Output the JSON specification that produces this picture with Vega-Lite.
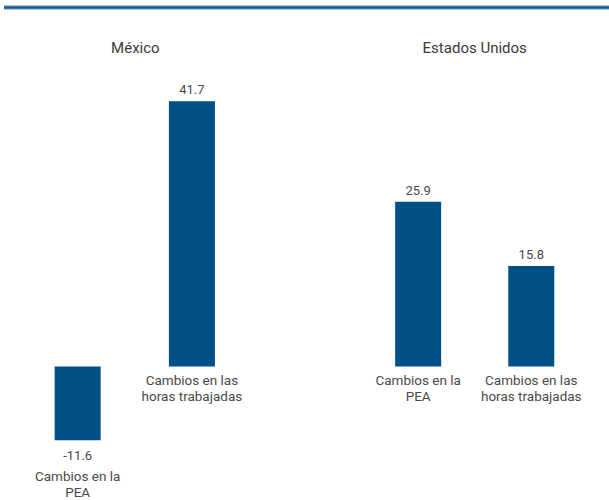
{
  "$schema": "https://vega.github.io/schema/vega-lite/v6.json",
  "width": 605,
  "height": 500,
  "autosize": "none",
  "padding": {"left": 4, "top": 0, "right": 0, "bottom": 0},
  "background": "white",
  "config": {"view": {"stroke": null}, "text": {"font": "Roboto", "color": "#4a4a4a", "lineBreak": "\n"}},
  "datasets": {
    "bars": [
      {"pais": "México", "cat": "Cambios en la\nPEA", "pos": 0.99, "valor": -11.6, "etiqueta": "-11.6"},
      {"pais": "México", "cat": "Cambios en las\nhoras trabajadas", "pos": 2, "valor": 41.7, "etiqueta": "41.7"},
      {"pais": "Estados Unidos", "cat": "Cambios en la\nPEA", "pos": 4, "valor": 25.9, "etiqueta": "25.9"},
      {"pais": "Estados Unidos", "cat": "Cambios en las\nhoras trabajadas", "pos": 5, "valor": 15.8, "etiqueta": "15.8"}
    ],
    "titles": [
      {"pais": "México", "pos": 1.5, "y": 50.1},
      {"pais": "Estados Unidos", "pos": 4.5, "y": 50.1}
    ],
    "linea": [{"y": 56.45}]
  },
  "layer": [
    {
      "data": {"name": "bars"},
      "mark": {"type": "bar", "size": 46, "color": "#005088"},
      "encoding": {
        "x": {"field": "pos", "type": "quantitative", "scale": {"domain": [0.383, 5.643], "nice": false, "zero": false}, "axis": null},
        "y": {"field": "valor", "type": "quantitative", "scale": {"domain": [-20.99, 57.63], "nice": false, "zero": false}, "axis": null}
      }
    },
    {
      "data": {"name": "linea"},
      "mark": {"type": "rule", "color": "#a8c6dc", "strokeWidth": 5},
      "encoding": {"y": {"field": "y", "type": "quantitative"}}
    },
    {
      "data": {"name": "linea"},
      "mark": {"type": "rule", "color": "#1a5e96", "strokeWidth": 2.5},
      "encoding": {"y": {"field": "y", "type": "quantitative"}}
    },
    {
      "data": {"name": "bars"},
      "transform": [{"filter": "datum.valor >= 0"}],
      "mark": {"type": "text", "baseline": "bottom", "dy": -4, "fontSize": 13},
      "encoding": {
        "x": {"field": "pos", "type": "quantitative"},
        "y": {"field": "valor", "type": "quantitative"},
        "text": {"field": "etiqueta", "type": "nominal"}
      }
    },
    {
      "data": {"name": "bars"},
      "transform": [{"filter": "datum.valor < 0"}],
      "mark": {"type": "text", "baseline": "top", "dy": 10, "fontSize": 13},
      "encoding": {
        "x": {"field": "pos", "type": "quantitative"},
        "y": {"field": "valor", "type": "quantitative"},
        "text": {"field": "etiqueta", "type": "nominal"}
      }
    },
    {
      "data": {"name": "bars"},
      "transform": [{"filter": "datum.valor >= 0"}],
      "mark": {"type": "text", "baseline": "top", "dy": 7, "fontSize": 13.5, "lineHeight": 16},
      "encoding": {
        "x": {"field": "pos", "type": "quantitative"},
        "y": {"datum": 0, "type": "quantitative"},
        "text": {"field": "cat", "type": "nominal"}
      }
    },
    {
      "data": {"name": "bars"},
      "transform": [{"filter": "datum.valor < 0"}],
      "mark": {"type": "text", "baseline": "top", "dy": 30, "fontSize": 13.5, "lineHeight": 16},
      "encoding": {
        "x": {"field": "pos", "type": "quantitative"},
        "y": {"field": "valor", "type": "quantitative"},
        "text": {"field": "cat", "type": "nominal"}
      }
    },
    {
      "data": {"name": "titles"},
      "mark": {"type": "text", "baseline": "middle", "fontSize": 15, "color": "#3a3a3a"},
      "encoding": {
        "x": {"field": "pos", "type": "quantitative"},
        "y": {"field": "y", "type": "quantitative"},
        "text": {"field": "pais", "type": "nominal"}
      }
    }
  ]
}
